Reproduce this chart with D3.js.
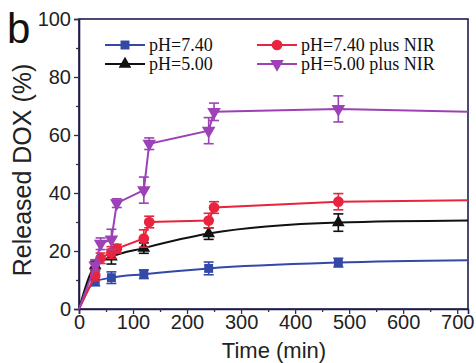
<!DOCTYPE html>
<html>
<head>
<meta charset="utf-8">
<script src="https://cdn.jsdelivr.net/npm/d3@7"></script>
<style>
  body { margin: 0; background: #fff; }
  svg { display: block; }
</style>
</head>
<body>
<div id="chart"></div>
<script>

// time points (min)
var timesPlain = [0, 30, 60, 120, 240, 480];
var timesNIR = [0, 30, 40, 60, 70, 120, 130, 240, 250, 480];

// pH=7.40
var ph74 = [0, 9.5, 10.8, 12, 14, 16];
var ph74Err = [0, 1.5, 2, 1.5, 2.2, 1.5];
var ph74End = 16.8;

// pH=5.00
var ph50 = [0, 15, 18, 21, 26, 29.8];
var ph50Err = [0, 1.5, 2.5, 1.8, 2, 3];
var ph50End = 30.5;

// pH=7.40 plus NIR
var ph74NIR = [0, 11.7, 17.5, 19.5, 20.8, 24.3, 30, 30.5, 35, 37];
var ph74NIRErr = [0, 2, 1.8, 2, 1.5, 3, 2, 2.5, 2, 2.8];
var ph74NIREnd = 37.5;

// pH=5.00 plus NIR
var ph50NIR = [0, 15, 22.5, 24, 36.5, 41, 57, 61.5, 68, 69];
var ph50NIRErr = [0, 2, 2, 3.5, 1.5, 4.5, 2, 4.5, 3, 4.5];
var ph50NIREnd = 68;

var xTicks = [0, 100, 200, 300, 400, 500, 600, 700];
var yTicks = [0, 20, 40, 60, 80, 100];

var width = 476, height = 363;
var plotLeft = 79, plotRight = 468, plotTop = 19, plotBottom = 309;
var frameColor = '#1c1c4e';
var tickFont = '"Liberation Sans", Arial, sans-serif';

var svg = d3.select('#chart').append('svg')
  .attr('width', width)
  .attr('height', height);

var x = d3.scaleLinear().domain([0, 720]).range([plotLeft, plotRight]);
var y = d3.scaleLinear().domain([0, 100]).range([plotBottom, plotTop]);

// frame
svg.append('rect')
  .attr('x', plotLeft).attr('y', plotTop)
  .attr('width', plotRight - plotLeft).attr('height', plotBottom - plotTop)
  .attr('fill', 'none')
  .attr('stroke', frameColor)
  .attr('stroke-width', 1.6);

// x axis, major + minor
var xAxis = svg.append('g')
  .attr('transform', 'translate(0,' + plotBottom + ')')
  .call(d3.axisBottom(x).tickValues(xTicks).tickSize(5).tickPadding(1));
svg.append('g')
  .attr('transform', 'translate(0,' + plotBottom + ')')
  .call(d3.axisBottom(x).tickValues(d3.range(50, 720, 100)).tickSize(3).tickFormat(''))
  .call(g => g.select('.domain').remove());

var yAxis = svg.append('g')
  .attr('transform', 'translate(' + plotLeft + ',0)')
  .call(d3.axisLeft(y).tickValues(yTicks).tickSize(5).tickPadding(3));
svg.append('g')
  .attr('transform', 'translate(' + plotLeft + ',0)')
  .call(d3.axisLeft(y).tickValues(d3.range(10, 100, 20)).tickSize(3).tickFormat(''))
  .call(g => g.select('.domain').remove());

svg.selectAll('.domain').attr('stroke', frameColor).attr('stroke-width', 1.6);
svg.selectAll('.tick line').attr('stroke', '#333').attr('stroke-width', 1.3);
svg.selectAll('.tick text')
  .attr('font-family', tickFont)
  .attr('font-size', 20)
  .attr('fill', '#222');

// axis titles
svg.append('text')
  .attr('x', 274).attr('y', 358)
  .attr('text-anchor', 'middle')
  .attr('font-family', tickFont)
  .attr('font-size', 22)
  .attr('fill', '#222')
  .text('Time (min)');

svg.append('text')
  .attr('transform', 'translate(31,170) rotate(-90)')
  .attr('text-anchor', 'middle')
  .attr('font-family', tickFont)
  .attr('font-size', 25)
  .attr('fill', '#222')
  .text('Released DOX (%)');

svg.append('text')
  .attr('x', 7).attr('y', 43)
  .attr('font-family', tickFont)
  .attr('font-size', 42)
  .attr('fill', '#111')
  .text('b');

var series = [
  {name: 'pH=7.40', t: timesPlain, v: ph74, e: ph74Err, end: ph74End, color: '#3448a8',
   symbol: d3.symbolSquare, size: 80, rot: 0, smooth: true},
  {name: 'pH=5.00', t: timesPlain, v: ph50, e: ph50Err, end: ph50End, color: '#111111',
   symbol: d3.symbolTriangle, size: 70, rot: 0, smooth: true},
  {name: 'pH=7.40 plus NIR', t: timesNIR, v: ph74NIR, e: ph74NIRErr, end: ph74NIREnd, color: '#e8243e',
   symbol: d3.symbolCircle, size: 90, rot: 0, smooth: false},
  {name: 'pH=5.00 plus NIR', t: timesNIR, v: ph50NIR, e: ph50NIRErr, end: ph50NIREnd, color: '#9c42b6',
   symbol: d3.symbolTriangle, size: 80, rot: 180, smooth: false}
];

var plot = svg.append('g');

series.forEach(function(s) {
  var pts = s.t.map(function(t, i) { return [t, s.v[i], s.e[i]]; });
  var linePts = pts.concat([[720, s.end, 0]]);

  var line = d3.line()
    .x(d => x(d[0]))
    .y(d => y(d[1]))
    .curve(s.smooth ? d3.curveMonotoneX : d3.curveLinear);

  var g = plot.append('g');

  g.append('path')
    .datum(linePts)
    .attr('fill', 'none')
    .attr('stroke', s.color)
    .attr('stroke-width', 2)
    .attr('d', line);

  // error bars
  var eb = g.selectAll('.err')
    .data(pts.filter(d => d[2] > 0))
    .enter().append('g');
  eb.append('line')
    .attr('x1', d => x(d[0])).attr('x2', d => x(d[0]))
    .attr('y1', d => y(d[1] - d[2])).attr('y2', d => y(d[1] + d[2]))
    .attr('stroke', s.color).attr('stroke-width', 1.6);
  [-1, 1].forEach(function(sign) {
    eb.append('line')
      .attr('x1', d => x(d[0]) - 5).attr('x2', d => x(d[0]) + 5)
      .attr('y1', d => y(d[1] + sign * d[2])).attr('y2', d => y(d[1] + sign * d[2]))
      .attr('stroke', s.color).attr('stroke-width', 1.6);
  });

  g.selectAll('.mk')
    .data(pts.filter(d => d[0] > 0))
    .enter().append('path')
    .attr('d', d3.symbol().type(s.symbol).size(s.size))
    .attr('transform', d => 'translate(' + x(d[0]) + ',' + y(d[1]) + ') rotate(' + s.rot + ')')
    .attr('fill', s.color);
});

// legend: two columns, two rows
var legendPos = [[105, 45], [105, 64], [257, 45], [257, 64]];
[0, 1, 2, 3].forEach(function(idx) {
  var s = series[idx];
  var p = legendPos[idx];
  var lg = svg.append('g').attr('transform', 'translate(' + p[0] + ',' + p[1] + ')');
  lg.append('line')
    .attr('x1', 0).attr('x2', 40)
    .attr('stroke', s.color).attr('stroke-width', 2);
  lg.append('path')
    .attr('d', d3.symbol().type(s.symbol).size(s.size))
    .attr('transform', 'translate(20,0) rotate(' + s.rot + ')')
    .attr('fill', s.color);
  lg.append('text')
    .attr('x', 44).attr('y', 6)
    .attr('font-family', '"Liberation Serif", "Times New Roman", serif')
    .attr('font-size', 18)
    .attr('fill', '#111')
    .text(s.name);
});

</script>
</body>
</html>
